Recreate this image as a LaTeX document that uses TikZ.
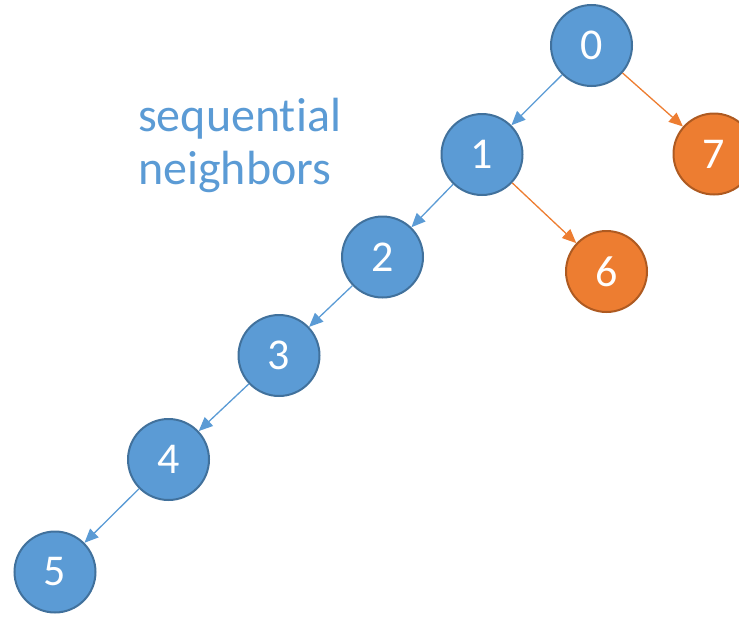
\documentclass[tikz,border=0pt]{standalone}
\usepackage{fontspec}
\setmainfont{Carlito}
\newfontfamily\lblfont{Carlito}[Ligatures={NoCommon}]
\usetikzlibrary{arrows.meta}
\definecolor{bluefill}{HTML}{5B9BD5}
\definecolor{blueline}{HTML}{41719C}
\definecolor{orangefill}{HTML}{ED7D31}
\definecolor{orangeline}{HTML}{AE5A21}
\tikzset{
  vbox/.style={circle, minimum size=81pt, inner sep=0pt, line width=2pt, text=white, font=\fontsize{44}{44}\selectfont},
  bluenode/.style={vbox, fill=bluefill, draw=blueline},
  orangenode/.style={vbox, fill=orangefill, draw=orangeline},
  seqedge/.style={draw=bluefill, line width=1.3pt, -{Triangle[length=14pt,width=12pt]}},
  jumpedge/.style={draw=orangefill, line width=1.3pt, -{Triangle[length=14pt,width=12pt]}},
}
\begin{document}
\begin{tikzpicture}[x=1pt,y=-1pt]
\useasboundingbox (0,0) rectangle (739,616);
\node[bluenode] (n0) at (591.5,45.5) {0};
\node[bluenode] (n1) at (482,154.5) {1};
\node[orangenode] (n7) at (714,154) {7};
\node[bluenode] (n2) at (382.5,257) {2};
\node[orangenode] (n6) at (606.5,271.5) {6};
\node[bluenode] (n3) at (279,355.5) {3};
\node[bluenode] (n4) at (168.5,459.5) {4};
\node[bluenode] (n5) at (55,572) {5};
\node[text=bluefill, align=left, anchor=north west, inner sep=0pt, font=\lblfont\fontsize{48}{53}\selectfont] (lbl) at (138,98) {sequent\kern0pt ial\\neighbors};
\draw[seqedge] (n0) -- (n1);
\draw[jumpedge] (n0) -- (n7);
\draw[seqedge] (n1) -- (n2);
\draw[jumpedge] (n1) -- (n6);
\draw[seqedge] (n2) -- (n3);
\draw[seqedge] (n3) -- (n4);
\draw[seqedge] (n4) -- (n5);
\end{tikzpicture}
\end{document}
